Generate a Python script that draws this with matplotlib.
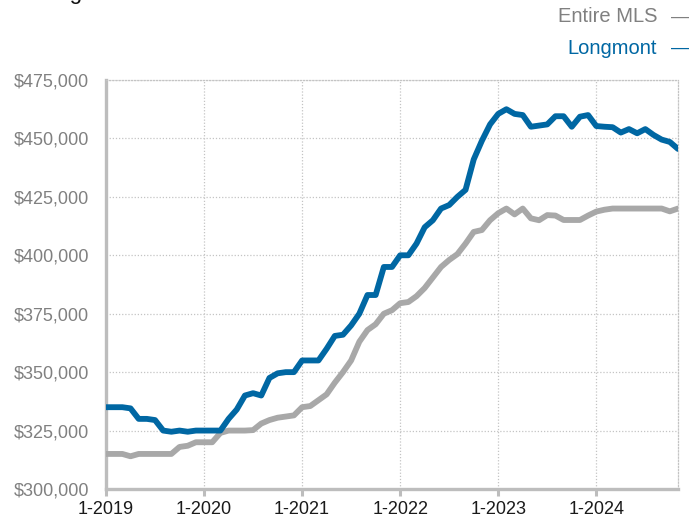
import numpy as np
import matplotlib
matplotlib.use('Agg')
import matplotlib.pyplot as plt
from matplotlib.ticker import FuncFormatter

plt.rcParams['font.family'] = ['Liberation Sans', 'DejaVu Sans']

# Rolling 12-month average sales price, monthly from 1-2019 through 11-2024
longmont = [335, 335, 335, 334.5, 330, 330, 329.5, 325, 324.5, 325,
            324.5, 325, 325, 325, 325, 330, 334, 340, 341, 340,
            347.5, 349.5, 350, 350, 355, 355, 355, 360, 365.5, 366,
            370, 375, 383, 383, 395, 395, 400, 400, 405, 412,
            415, 420, 421.5, 425, 428, 441, 449, 456, 460.5, 462.5,
            460.5, 460, 455, 455.5, 456, 459.5, 459.5, 455, 459.3, 460,
            455.3, 455, 454.8, 452.5, 454, 452.2, 454, 451.5, 449.5, 448.5,
            445.5]
entire_mls = [315, 315, 315, 314, 315, 315, 315, 315, 315, 318,
              318.5, 320, 320, 320, 324, 325, 325, 325, 325.2, 328,
              329.5, 330.5, 331, 331.5, 335, 335.5, 338, 340.5, 345.5, 350,
              355, 363, 368, 370.5, 375, 376.5, 379.5, 380, 382.5, 386,
              390.5, 395, 398, 400.5, 405, 410, 410.8, 415, 418, 420,
              417.5, 420, 415.8, 415, 417.2, 417, 415.1, 415.1, 415.1, 417,
              418.7, 419.5, 420, 420, 420, 420, 420, 420, 420, 418.8,
              420]
year_labels = ['1-2019', '1-2020', '1-2021', '1-2022', '1-2023', '1-2024']

BLUE = '#0067a3'
GRAY = '#a8a8a8'
AXIS_GRAY = '#bdbdbd'
GRID_GRAY = '#c4c4c4'

months = np.arange(len(longmont))
lm = np.array(longmont) * 1000
mls = np.array(entire_mls) * 1000

fig = plt.figure(figsize=(6.99, 5.19), dpi=100)
ax = fig.add_axes([106 / 699, 30 / 519, 572 / 699, 409 / 519])

ax.plot(months, mls, color=GRAY, lw=4.2, solid_joinstyle='round',
        solid_capstyle='round', zorder=3)
ax.plot(months, lm, color=BLUE, lw=4.2, solid_joinstyle='round',
        solid_capstyle='round', zorder=4)

ax.set_xlim(0, len(longmont) - 1)
ax.set_ylim(300000, 475000)
ax.set_xticks(np.arange(len(year_labels)) * 12)
ax.set_xticklabels(year_labels)
ax.set_yticks(np.arange(300000, 475001, 25000))
ax.yaxis.set_major_formatter(FuncFormatter(lambda v, p: f'${v:,.0f}'))

ax.grid(True, color=GRID_GRAY, ls=(0, (1, 1.5)), lw=0.9, zorder=0)
ax.set_axisbelow(True)

for side in ('left', 'bottom'):
    ax.spines[side].set_color(AXIS_GRAY)
    ax.spines[side].set_linewidth(2.4)
for side in ('top', 'right'):
    ax.spines[side].set_color(GRID_GRAY)
    ax.spines[side].set_linestyle((0, (1, 1.5)))
    ax.spines[side].set_linewidth(0.9)

ax.tick_params(axis='x', length=5, width=2.2, color=AXIS_GRAY,
               labelsize=13, labelcolor='#1a1a1a', pad=4)
ax.tick_params(axis='y', length=0, labelsize=13, labelcolor='#808080', pad=12)

# partially visible heading at the top edge
fig.text(14 / 699, 1.001, 'Rolling 12-Month Calculation', fontsize=16,
         color='#111111', ha='left', va='baseline')

# legend entries in the top-right corner
fig.text(657 / 699, 1 - 17 / 519, 'Entire MLS', fontsize=14.5, color='#808080',
         ha='right', va='center')
fig.text(657 / 699, 1 - 48 / 519, 'Longmont', fontsize=14.5, color=BLUE,
         ha='right', va='center')
fig.text(680 / 699, 1 - 17 / 519, '\u2014', fontsize=13, color='#808080',
         ha='center', va='center')
fig.text(680 / 699, 1 - 48 / 519, '\u2014', fontsize=13, color=BLUE,
         ha='center', va='center')

fig.savefig('out.png', dpi=100)
